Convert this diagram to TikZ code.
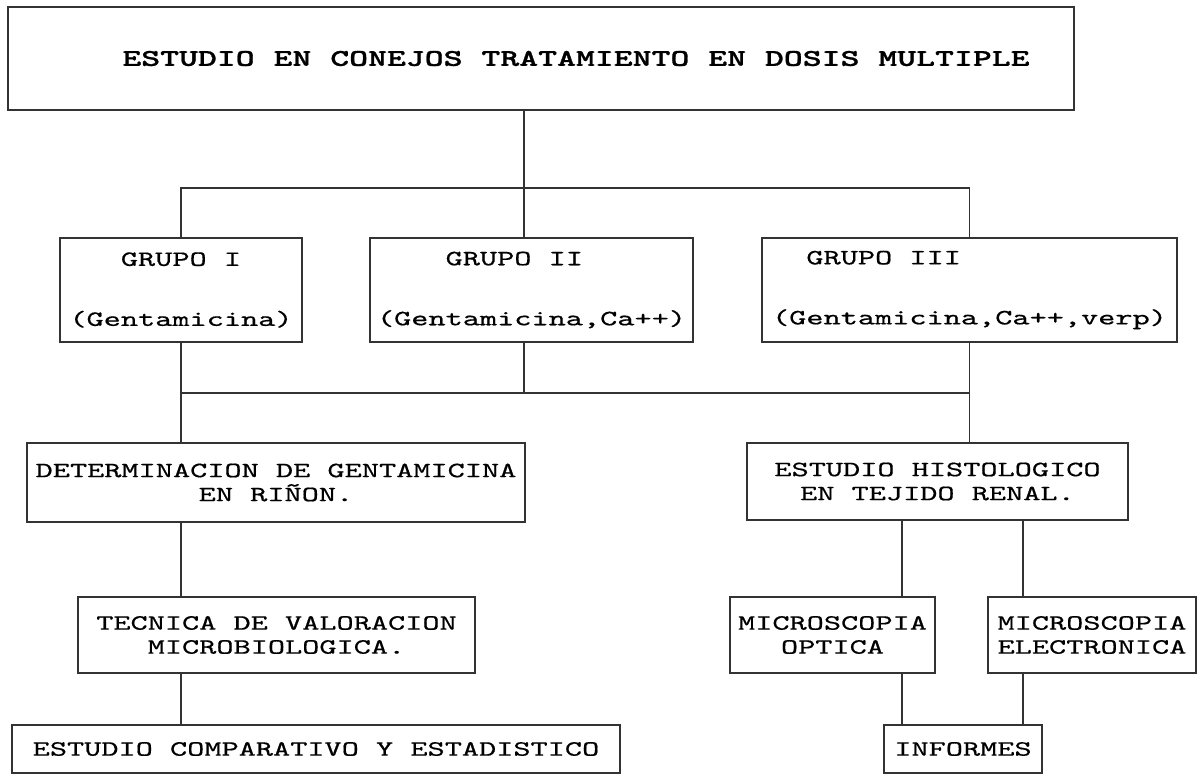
\documentclass[tikz,border=0pt]{standalone}
\usepackage{fontspec}
\newfontfamily\boxfont[FakeStretch=1.5, FakeBold=0.6]{lmmono10-regular.otf}
\newfontfamily\titlefont[FakeStretch=1.5, FakeBold=1.2]{lmmonolt10-bold.otf}
\begin{document}
\begin{tikzpicture}[x=0.5pt,y=-0.5pt]
	\tikzstyle{box}  = [rectangle, draw=black!80, line width=0.6pt, inner sep=0pt, align=center, font=\boxfont\fontsize{10.9}{12}\selectfont]
	\tikzstyle{link} = [draw=black!80, line width=0.6pt]

	\useasboundingbox (0,0) rectangle (1200,776);

	% title and the three groups
	\node[box, minimum width=533pt, minimum height=51.5pt, font=\titlefont\fontsize{12}{13}\selectfont] (title) at (541,58.5) {\hspace*{35pt}ESTUDIO EN CONEJOS TRATAMIENTO EN DOSIS MULTIPLE};
	\node[box, align=left, minimum width=121pt, minimum height=52pt] (g1) at (181,290) {\phantom{xxx}GRUPO I\\[18pt](Gentamicina)};
	\node[box, align=left, minimum width=161.5pt, minimum height=52pt] (g2) at (531.5,290) {\phantom{xxxx}GRUPO II\\[18pt](Gentamicina,Ca++)};
	\node[box, align=left, minimum width=207.5pt, minimum height=52pt] (g3) at (969.5,290) {\phantom{xx}GRUPO III\\[18pt](Gentamicina,Ca++,verp)};

	% left branch
	\node[box, minimum width=249pt, minimum height=39.5pt] (det) at (276,482.5) {DETERMINACION DE GENTAMICINA\\EN RIÑON.};
	\node[box, minimum width=198.5pt, minimum height=38pt] (tec) at (276.5,635) {TECNICA DE VALORACION\\MICROBIOLOGICA.};
	\node[box, minimum width=304pt, minimum height=24pt] (comp) at (316,749) {ESTUDIO COMPARATIVO Y ESTADISTICO};

	% right branch
	\node[box, minimum width=190.5pt, minimum height=38.5pt] (hist) at (937.5,481.5) {ESTUDIO HISTOLOGICO\\EN TEJIDO RENAL.};
	\node[box, minimum width=102.5pt, minimum height=38pt] (opt) at (832.5,635) {MICROSCOPIA\\OPTICA};
	\node[box, minimum width=104pt, minimum height=38pt] (elec) at (1092,635) {MICROSCOPIA\\ELECTRONICA};
	\node[box, minimum width=79pt, minimum height=24pt] (inf) at (963,749) {INFORMES};

	\coordinate (jtop) at (524,188);
	\coordinate (jmid) at (524,393);
	\coordinate (lc) at (902,0);
	\coordinate (rc) at (1023,0);

	\draw[link] (title.south -| jtop) -- (jtop);
	\draw[link] (g1.north) |- (jtop) -| (g3.north);
	\draw[link] (g2.north -| jtop) -- (jtop);
	\draw[link] (g1.south) |- (jmid) -| (g3.south);
	\draw[link] (g2.south -| jmid) -- (jmid);
	\draw[link] (g1.south) -- (g1.south |- det.north);
	\draw[link] (g3.south) -- (g3.south |- hist.north);

	\foreach \a/\b in {det/tec, tec/comp}
		\draw[link] (\a.south -| g1.south) -- (\b.north -| g1.south);

	\foreach \a/\b/\c in {hist/opt/lc, hist/elec/rc, opt/inf/lc, elec/inf/rc}
		\draw[link] (\a.south -| \c) -- (\b.north -| \c);
\end{tikzpicture}
\end{document}
